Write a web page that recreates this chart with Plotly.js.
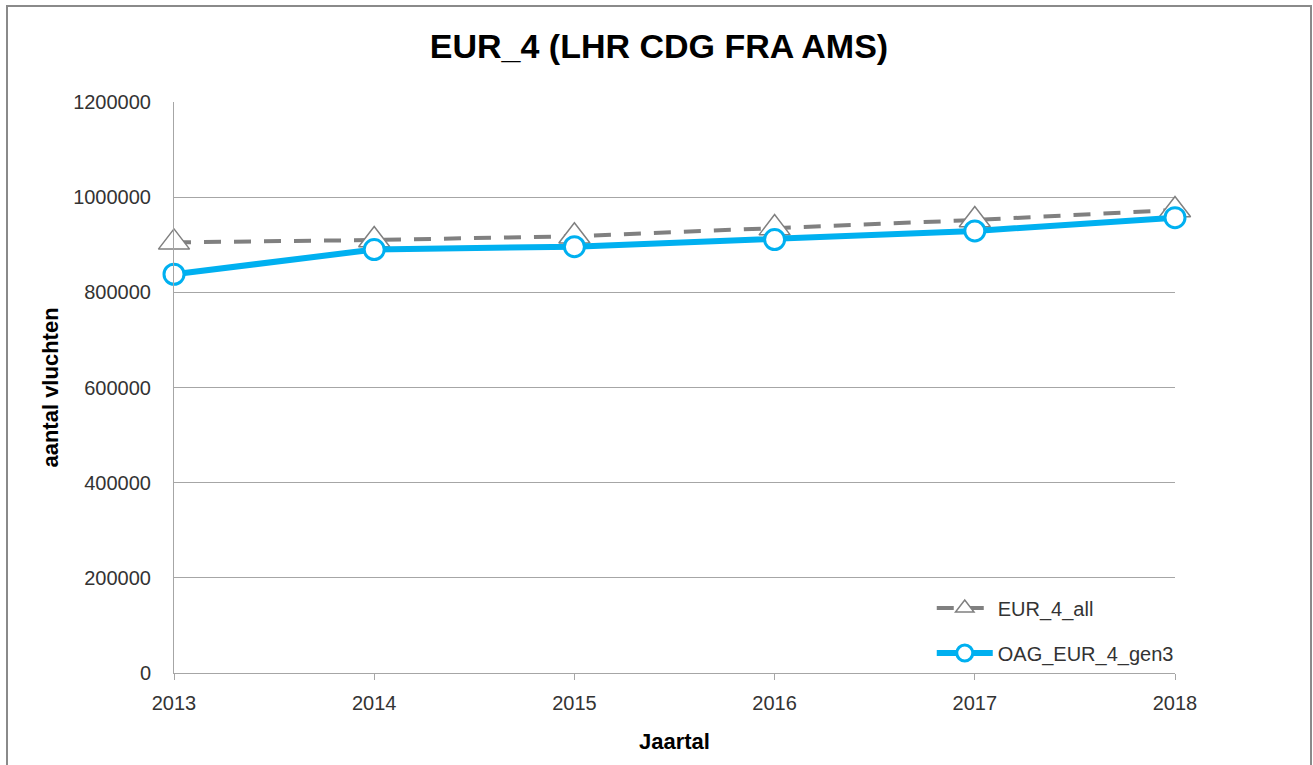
<!DOCTYPE html>
<html>
<head>
<meta charset="utf-8">
<script src="https://cdn.plot.ly/plotly-3.0.1.min.js"></script>
<style>
html,body{margin:0;padding:0;background:#fff;}
#wrap{position:relative;width:1313px;height:765px;overflow:hidden;}
#chart{position:absolute;left:0;top:0;width:1313px;height:765px;}
#frame{position:absolute;left:6px;top:5px;width:1302px;height:800px;border:2px solid #8a8a8a;pointer-events:none;}
</style>
</head>
<body>
<div id="wrap"><div id="chart"></div><div id="frame"></div></div>
<script>
const years = [2013, 2014, 2015, 2016, 2017, 2018];
const eur4All = [905000, 910000, 918000, 935000, 952000, 973000];
const oagEur4Gen3 = [838000, 890000, 896000, 911000, 929000, 957000];
const yTicks = [0, 200000, 400000, 600000, 800000, 1000000, 1200000];
const yTickText = ['0', '200000', '400000', '600000', '800000', '1000000', '1200000'];

const FONT = 'Liberation Sans, Arial, sans-serif';
const GRID = '#a6a6a6';

const traces = [
  {
    x: years, y: eur4All, name: 'EUR_4_all', type: 'scatter', mode: 'lines+markers',
    legendgroup: 'a',
    line: {color: '#808080', width: 4, dash: '17px,13px'},
    marker: {symbol: 'triangle-up', size: 27, color: '#ffffff', line: {color: '#808080', width: 1.5}},
    cliponaxis: false
  },
  {
    x: years, y: oagEur4Gen3, name: 'OAG_EUR_4_gen3', type: 'scatter', mode: 'lines+markers',
    legendgroup: 'b',
    line: {color: '#00b0f0', width: 6},
    marker: {symbol: 'circle', size: 20, color: '#ffffff', line: {color: '#00b0f0', width: 3}},
    cliponaxis: false
  }
];

const layout = {
  width: 1313, height: 765,
  margin: {l: 174, r: 138, t: 102, b: 92},
  paper_bgcolor: '#ffffff', plot_bgcolor: '#ffffff',
  font: {family: FONT, color: '#333333', size: 20},
  title: {
    text: '<b>EUR_4 (LHR CDG FRA AMS)</b>',
    font: {family: FONT, size: 34, color: '#000000'},
    x: 659 / 1313, xref: 'container', xanchor: 'center',
    y: 1 - 46 / 765, yref: 'container', yanchor: 'middle'
  },
  xaxis: {
    type: 'linear', range: [2013, 2018], tickvals: years, ticktext: years.map(String),
    showgrid: false, zeroline: false,
    showline: true, linecolor: GRID, linewidth: 1,
    ticks: 'outside', ticklen: 6, tickcolor: GRID, ticklabelstandoff: 6,
    tickfont: {family: FONT, size: 20, color: '#333333'},
    title: {text: '<b>Jaartal</b>', font: {family: FONT, size: 22, color: '#000000'}, standoff: 20}
  },
  yaxis: {
    range: [0, 1200000], tickvals: yTicks, ticktext: yTickText,
    showgrid: true, gridcolor: GRID, gridwidth: 1, zeroline: false,
    showline: true, linecolor: GRID, linewidth: 1,
    ticks: 'outside', ticklen: 18, tickcolor: 'rgba(0,0,0,0)',
    tickfont: {family: FONT, size: 20, color: '#333333'},
    title: {text: '<b>aantal vluchten</b>', font: {family: FONT, size: 22, color: '#000000'}, standoff: 8}
  },
  showlegend: true,
  legend: {
    x: 0.757, y: 0.148, xanchor: 'left', yanchor: 'top',
    bgcolor: 'rgba(255,255,255,0)', borderwidth: 0,
    font: {family: FONT, size: 20, color: '#333333'},
    itemwidth: 56,
    traceorder: 'grouped', tracegroupgap: 16
  }
};

Plotly.newPlot('chart', traces, layout, {displayModeBar: false, staticPlot: true});
</script>
</body>
</html>
